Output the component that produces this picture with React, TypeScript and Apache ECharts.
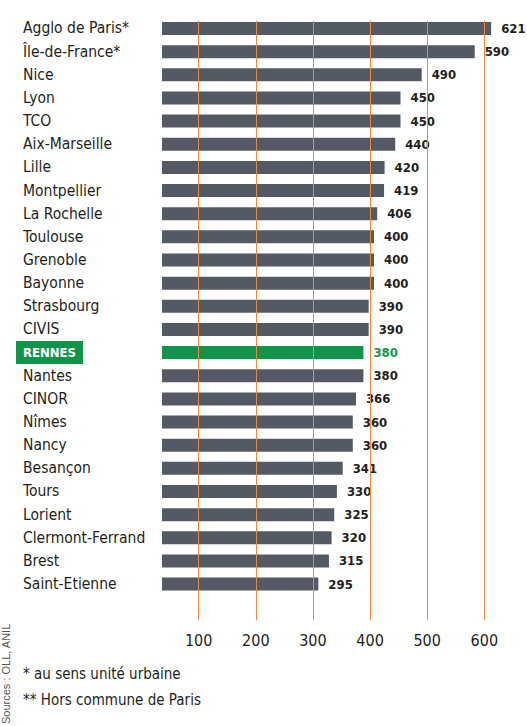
import React, { useEffect, useRef } from "react";
import * as echarts from "echarts";

const categories = [
  "Agglo de Paris*", "Île-de-France*", "Nice", "Lyon", "TCO", "Aix-Marseille", "Lille",
  "Montpellier", "La Rochelle", "Toulouse", "Grenoble", "Bayonne", "Strasbourg", "CIVIS",
  "RENNES", "Nantes", "CINOR", "Nîmes", "Nancy", "Besançon", "Tours", "Lorient",
  "Clermont-Ferrand", "Brest", "Saint-Etienne",
];
const values = [
  621, 590, 490, 450, 450, 440, 420, 419, 406, 400, 400, 400, 390, 390,
  380, 380, 366, 360, 360, 341, 330, 325, 320, 315, 295,
];
const highlight = "RENNES";
const gridMin = 100;
const gridMax = 600;
const gridStep = 100;
const footnotes = ["* au sens unité urbaine", "** Hors commune de Paris"];
const sourceText = "Sources : OLL, ANIL";

const FONT = '"Liberation Sans Narrow", "DejaVu Sans Condensed", "Liberation Sans", sans-serif';
const DARK = "#231f20";
const GREY_BAR = "#535a66";
const GREEN = "#11944a";
const ORANGE = "#f0883a";

export default function App() {
  const ref = useRef<HTMLDivElement>(null);
  useEffect(() => {
    if (!ref.current) return;
    const chart = echarts.init(ref.current, undefined, { renderer: "svg" });
    const option: any = {
      animation: false,
      backgroundColor: "#ffffff",
      grid: [
        { left: 162, top: 16.9, width: 344.5, height: 578.75 },
        { left: 198.7, top: 21, width: 285.6, height: 599 },
      ],
      xAxis: [
        { gridIndex: 0, type: "value", min: 0, max: 650, show: false },
        {
          gridIndex: 1,
          type: "value",
          min: gridMin,
          max: gridMax,
          interval: gridStep,
          z: 5,
          axisLine: { show: false },
          axisTick: { show: false },
          splitLine: { show: true, lineStyle: { color: ORANGE, width: 1 } },
          axisLabel: { fontFamily: FONT, fontSize: 16, color: DARK, margin: 12 },
        },
      ],
      yAxis: [
        {
          gridIndex: 0,
          type: "category",
          data: categories,
          inverse: true,
          axisLine: { show: false },
          axisTick: { show: false },
          splitLine: { show: false },
          axisLabel: {
            align: "left",
            margin: 146,
            formatter: (v: string) => (v === highlight ? `{r|${v}}` : `{n|${v}}`),
            rich: {
              n: { fontFamily: FONT, fontSize: 15.5, color: DARK, padding: [0, 0, 0, 7] },
              r: {
                fontFamily: FONT,
                fontSize: 13,
                fontWeight: "bold",
                color: "#ffffff",
                backgroundColor: GREEN,
                padding: [5, 7, 5, 7],
              },
            },
          },
        },
        { gridIndex: 1, type: "value", show: false, min: 0, max: 1 },
      ],
      series: [
        {
          type: "bar",
          xAxisIndex: 0,
          yAxisIndex: 0,
          barWidth: 13,
          itemStyle: { color: GREY_BAR },
          label: {
            show: true,
            position: "right",
            distance: 10,
            fontFamily: FONT,
            fontWeight: "bold",
            fontSize: 13,
            color: DARK,
          },
          data: values.map((v, i) =>
            categories[i] === highlight
              ? { value: v, itemStyle: { color: GREEN }, label: { color: GREEN } }
              : v
          ),
        },
      ],
      graphic: [
        ...footnotes.map((t, i) => ({
          type: "text",
          x: 23,
          y: 674 + i * 26,
          style: { text: t, fontFamily: FONT, fontSize: 15, fill: DARK, align: "left", verticalAlign: "middle" },
        })),
        {
          type: "text",
          x: 11,
          y: 724,
          rotation: Math.PI / 2,
          style: {
            text: sourceText,
            fontFamily: '"Liberation Sans", Arial, sans-serif',
            fontSize: 11,
            fill: "#555555",
            align: "left",
            verticalAlign: "bottom",
          },
        },
      ],
    };
    chart.setOption(option);
    return () => chart.dispose();
  }, []);
  return (
    <div
      ref={ref}
      style={{ position: "fixed", left: 0, top: 0, width: 527, height: 726, background: "#fff" }}
    />
  );
}
